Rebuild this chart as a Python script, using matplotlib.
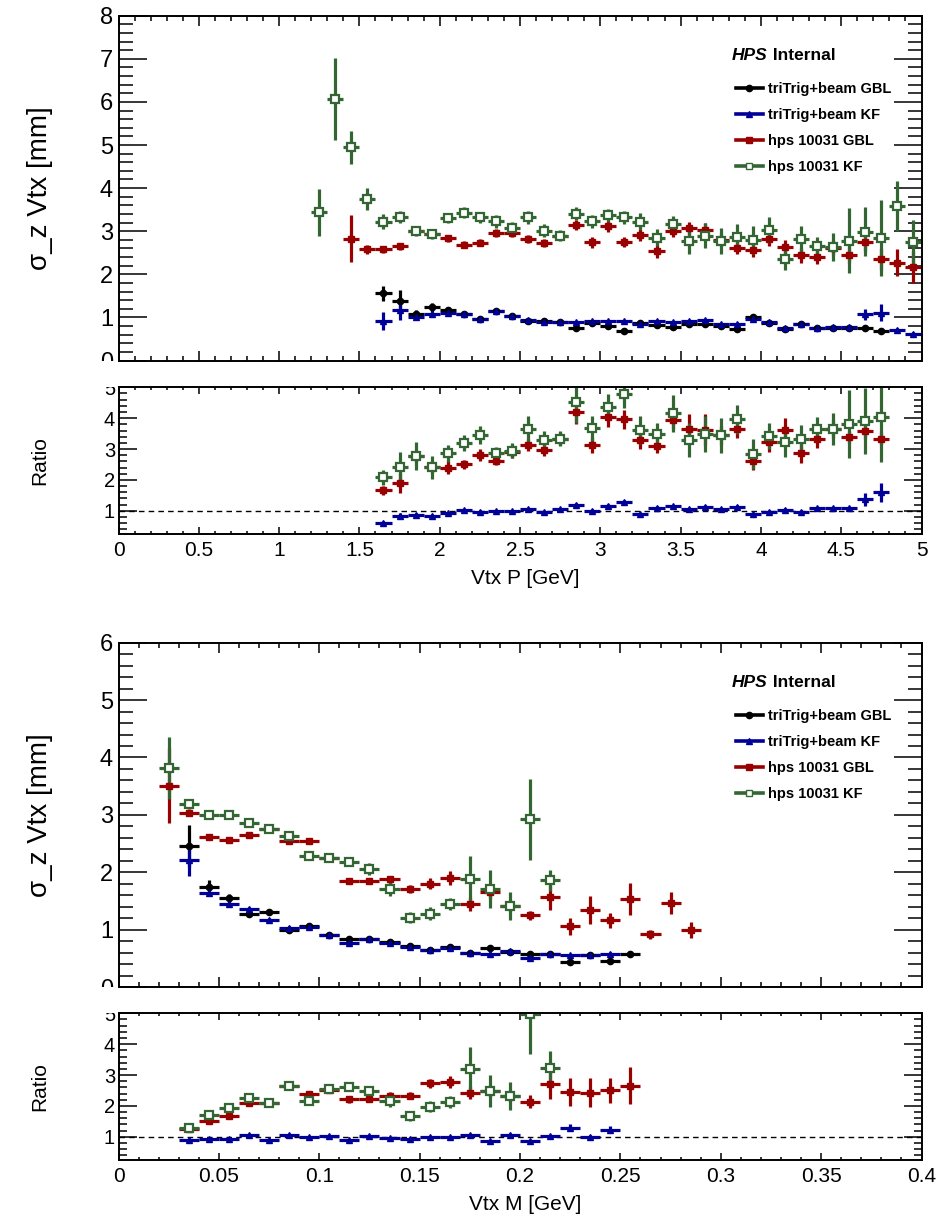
import numpy as np
import matplotlib
matplotlib.use('Agg')
import matplotlib.pyplot as plt
from matplotlib.lines import Line2D
from matplotlib.ticker import MultipleLocator, FuncFormatter
from matplotlib.transforms import Bbox, TransformedBbox

plt.rcParams['font.family'] = ['Liberation Sans', 'DejaVu Sans']

# ---- bin centres ----
p_bins = [1.25, 1.35, 1.45, 1.55, 1.65, 1.75, 1.85, 1.95, 2.05, 2.15,
          2.25, 2.35, 2.45, 2.55, 2.65, 2.75, 2.85, 2.95, 3.05, 3.15,
          3.25, 3.35, 3.45, 3.55, 3.65, 3.75, 3.85, 3.95, 4.05, 4.15,
          4.25, 4.35, 4.45, 4.55, 4.65, 4.75, 4.85, 4.95]
m_bins = [0.025, 0.035, 0.045, 0.055, 0.065, 0.075, 0.085, 0.095, 0.105,
          0.115, 0.125, 0.135, 0.145, 0.155, 0.165, 0.175, 0.185, 0.195,
          0.205, 0.215, 0.225, 0.235, 0.245, 0.255, 0.265, 0.275, 0.285]

# ---- sigma_z vs Vtx P ----
p_x_kf10031 = p_bins[0:38]
p_kf10031 = [3.44, 6.07, 4.95, 3.75, 3.22, 3.33, 3.01, 2.93, 3.31, 3.43,
             3.32, 3.23, 3.07, 3.32, 3.01, 2.90, 3.41, 3.23, 3.37, 3.32,
             3.22, 2.85, 3.16, 2.78, 2.90, 2.78, 2.86, 2.80, 3.03, 2.35,
             2.82, 2.66, 2.63, 2.78, 2.99, 2.84, 3.59, 2.74]
p_kf10031_err = [.55, .95, .38, .26, .17, .15, .12, .12, .12, .12,
                 .12, .15, .15, .15, .15, .12, .15, .15, .15, .15,
                 .2, .2, .2, .3, .3, .3, .3, .32, .3, .25,
                 .3, .2, .32, .75, .57, .88, .58, .53]

p_x_gbl10031 = p_bins[2:38]
p_gbl10031 = [2.83, 2.58, 2.58, 2.65, 3.01, 2.93, 2.84, 2.69, 2.73, 2.96,
              2.96, 2.82, 2.73, 2.90, 3.15, 2.74, 3.11, 2.75, 2.91, 2.53,
              3.01, 3.07, 3.03, 2.80, 2.62, 2.57, 2.82, 2.63, 2.44, 2.40,
              2.62, 2.45, 2.75, 2.35, 2.27, 2.16]
p_gbl10031_err = [.55, .1, .08, .08, .08, .08, .08, .08, .08, .1,
                  .1, .1, .1, .1, .12, .12, .12, .12, .14, .15,
                  .15, .15, .15, .15, .15, .16, .16, .16, .17, .17,
                  .18, .18, .2, .24, .31, .37]

p_x_gbltt = p_bins[4:36]
p_gbltt = [1.56, 1.38, 1.09, 1.23, 1.17, 1.09, 0.96, 1.14, 1.03, 0.92,
           0.91, 0.89, 0.76, 0.88, 0.79, 0.69, 0.88, 0.83, 0.77, 0.84,
           0.85, 0.80, 0.72, 1.01, 0.88, 0.73, 0.85, 0.75, 0.75, 0.75,
           0.75, 0.69]
p_gbltt_err = [.17, .26, .08, .1, .06, .05, .04, .04, .03, .03,
               .03, .03, .03, .03, .03, .03, .03, .03, .03, .03,
               .03, .03, .03, .05, .04, .03, .03, .03, .03, .03,
               .04, .05]

p_x_kftt = p_bins[4:38]
p_kftt = [0.92, 1.17, 1.01, 1.08, 1.11, 1.09, 0.96, 1.14, 1.03, 0.93,
          0.89, 0.90, 0.89, 0.91, 0.91, 0.91, 0.84, 0.91, 0.89, 0.91,
          0.94, 0.85, 0.84, 0.96, 0.89, 0.75, 0.85, 0.76, 0.77, 0.77,
          1.07, 1.11, 0.71, 0.61]
p_kftt_err = [.21, .24, .06, .05, .04, .04, .03, .03, .03, .03,
              .03, .03, .03, .03, .03, .03, .03, .03, .03, .03,
              .03, .03, .03, .03, .03, .03, .03, .03, .03, .03,
              .12, .19, .04, .04]

# ratios (w.r.t. triTrig+beam GBL)
pr_x = p_bins[4:36]
pr_kf10031 = [2.08, 2.42, 2.78, 2.41, 2.86, 3.20, 3.45, 2.86, 2.95, 3.65,
              3.29, 3.34, 4.53, 3.67, 4.35, 4.77, 3.62, 3.49, 4.16, 3.29,
              3.49, 3.44, 3.96, 2.83, 3.43, 3.22, 3.31, 3.65, 3.65, 3.82,
              3.91, 4.05]
pr_kf10031_err = [.25, .5, .45, .38, .28, .25, .3, .2, .25, .43,
                  .3, .25, .67, .4, .42, .45, .45, .36, .6, .54,
                  .58, .56, .48, .49, .43, .48, .48, .4, .51, 1.1,
                  1.08, 1.46]
pr_gbl10031 = [1.67, 1.91, 2.78, 2.41, 2.40, 2.51, 2.81, 2.62, 2.92, 3.13,
               2.97, 3.34, 4.19, 3.13, 4.05, 3.96, 3.29, 3.11, 3.94, 3.65,
               3.62, 3.44, 3.65, 2.61, 3.22, 3.62, 2.86, 3.34, 3.65, 3.40,
               3.58, 3.34]
pr_gbl10031_err = [.15, .32, .2, .2, .2, .15, .2, .15, .2, .2,
                   .2, .2, .37, .27, .32, .3, .3, .25, .3, .47,
                   .5, .3, .3, .3, .3, .4, .3, .3, .3, .2,
                   .25, .2]
pr_kftt = [0.59, 0.83, 0.86, 0.84, 0.92, 1.02, 0.97, 0.99, 0.99, 1.05,
           0.96, 1.05, 1.18, 1.00, 1.16, 1.29, 0.89, 1.10, 1.15, 1.05,
           1.13, 1.05, 1.13, 0.89, 0.97, 1.04, 0.97, 1.08, 1.08, 1.08,
           1.37, 1.60]
pr_kftt_err = [.08, .1, .06, .06, .05, .05, .05, .05, .05, .05,
               .05, .05, .06, .05, .06, .06, .05, .05, .05, .05,
               .05, .05, .05, .05, .05, .05, .05, .05, .05, .05,
               .2, .31]

# ---- sigma_z vs Vtx M ----
m_x_kf10031 = m_bins[0:20]
m_kf10031 = [3.82, 3.19, 2.99, 2.99, 2.86, 2.75, 2.64, 2.28, 2.25, 2.18,
             2.06, 1.71, 1.21, 1.28, 1.45, 1.89, 1.71, 1.41, 2.92, 1.86]
m_kf10031_err = [.54, .07, .04, .04, .05, .05, .07, .07, .08, .08,
                 .1, .12, .1, .12, .1, .4, .33, .25, .7, .18]

m_x_gbl10031 = m_bins[0:27]
m_gbl10031 = [3.51, 3.04, 2.61, 2.56, 2.65, 2.75, 2.55, 2.54, 2.25, 1.85,
              1.85, 1.88, 1.71, 1.80, 1.90, 1.44, 1.66, 1.41, 1.25, 1.56,
              1.06, 1.34, 1.16, 1.53, 0.92, 1.47, 0.99]
m_gbl10031_err = [.65, .06, .04, .04, .04, .05, .04, .05, .06, .05,
                  .05, .06, .07, .1, .13, .12, .12, .1, .08, .22,
                  .15, .24, .13, .28, .08, .19, .14]

m_x_gbltt = m_bins[1:24]
m_gbltt = [2.46, 1.75, 1.55, 1.28, 1.31, 0.99, 1.06, 0.91, 0.84, 0.84,
           0.79, 0.72, 0.65, 0.70, 0.59, 0.68, 0.61, 0.58, 0.57, 0.43,
           0.55, 0.45, 0.58]
m_gbltt_err = [.37, .12, .07, .05, .05, .03, .04, .03, .03, .03,
               .03, .03, .03, .03, .03, .03, .03, .03, .03, .03,
               .03, .03, .03]

m_x_kftt = m_bins[1:23]
m_kftt = [2.22, 1.63, 1.45, 1.36, 1.16, 1.03, 1.05, 0.91, 0.77, 0.83,
          0.77, 0.70, 0.65, 0.68, 0.60, 0.58, 0.63, 0.50, 0.58, 0.55,
          0.55, 0.58]
m_kftt_err = [.28, .05, .04, .04, .04, .03, .03, .03, .03, .03,
              .03, .03, .03, .03, .03, .03, .03, .03, .03, .03,
              .03, .03]

mr_x_kf10031 = m_bins[1:20]
mr_kf10031 = [1.28, 1.71, 1.93, 2.25, 2.11, 2.65, 2.16, 2.54, 2.60, 2.49,
              2.16, 1.66, 1.97, 2.13, 3.21, 2.48, 2.33, 4.98, 3.24]
mr_kf10031_err = [.1, .1, .08, .1, .08, .12, .1, .12, .12, .15,
                  .18, .15, .18, .2, .7, .53, .46, 1.3, .53]
mr_x_gbl10031 = m_bins[1:24]
mr_gbl10031 = [1.25, 1.52, 1.68, 2.11, 2.11, 2.65, 2.38, 2.51, 2.21, 2.24,
               2.33, 2.33, 2.73, 2.77, 2.43, 2.48, 2.33, 2.14, 2.71, 2.45,
               2.43, 2.51, 2.65]
mr_gbl10031_err = [.1, .1, .08, .08, .08, .1, .1, .1, .1, .1,
                   .12, .12, .15, .2, .2, .2, .2, .2, .5, .45,
                   .48, .4, .6]
mr_x_kftt = m_bins[1:23]
mr_kftt = [0.90, 0.92, 0.92, 1.06, 0.90, 1.06, 0.98, 1.02, 0.90, 1.02,
           0.96, 0.94, 0.98, 1.00, 1.06, 0.85, 1.06, 0.85, 1.02, 1.30,
           1.00, 1.23]
mr_kftt_err = [.06, .04, .04, .04, .04, .04, .04, .04, .04, .04,
               .04, .04, .04, .04, .04, .05, .05, .05, .05, .1,
               .05, .12]

labels = ['triTrig+beam GBL', 'triTrig+beam KF', 'hps 10031 GBL', 'hps 10031 KF']

BLACK = '#000000'
BLUE = '#000099'
RED = '#990000'
GREEN = '#336633'

STYLE = {
    'gbltt': dict(color=BLACK, fmt='o', ms=4.5, mfc=BLACK),
    'kftt': dict(color=BLUE, fmt='^', ms=5, mfc=BLUE),
    'gbl10031': dict(color=RED, fmt='s', ms=4.8, mfc=RED),
    'kf10031': dict(color=GREEN, fmt='s', ms=5.8, mfc='white', mew=1.6),
}

W, H = 942, 1216
fig = plt.figure(figsize=(W / 100, H / 100), dpi=100)


def ax_at(top, bottom, left=118.5, right=921.5):
    return fig.add_axes([left / W, 1 - bottom / H, (right - left) / W, (bottom - top) / H])


def draw(ax, key, x, y, err, hw):
    st = STYLE[key]
    ax.errorbar(x, y, xerr=hw, yerr=err, fmt=st['fmt'], color=st['color'],
                ms=st['ms'], mfc=st['mfc'], mec=st['color'], mew=st.get('mew', 1),
                elinewidth=2.3, capsize=0, linestyle='none')


def style_axes(ax, main, xmaj, xmin, ymaj, ymin):
    ax.xaxis.set_major_locator(MultipleLocator(xmaj))
    ax.xaxis.set_minor_locator(MultipleLocator(xmin))
    ax.yaxis.set_major_locator(MultipleLocator(ymaj))
    ax.yaxis.set_minor_locator(MultipleLocator(ymin))
    ax.xaxis.set_major_formatter(FuncFormatter(lambda v, p: '%g' % round(v, 4)))
    ax.yaxis.set_major_formatter(FuncFormatter(lambda v, p: '%g' % round(v, 4)))
    ax.tick_params(which='both', direction='in', top=True, right=True, width=1.1)
    for s in ax.spines.values():
        s.set_linewidth(1.4)
    if main:
        ax.tick_params(axis='y', which='major', length=20, labelsize=17, pad=4)
        ax.tick_params(axis='y', which='minor', length=10)
        ax.tick_params(axis='x', which='major', length=7)
        ax.tick_params(axis='x', which='minor', length=3.6)
        ax.tick_params(axis='x', labelbottom=False)
    else:
        ax.tick_params(axis='y', which='major', length=13, labelsize=14.5, pad=2.5)
        ax.tick_params(axis='y', which='minor', length=6)
        ax.tick_params(axis='x', which='major', length=5, labelsize=15, pad=5)
        ax.tick_params(axis='x', which='minor', length=2.5)


def set_ylabel(ax, text, size):
    ax.set_ylabel(text, fontsize=size, va='center')
    ax.yaxis.set_label_coords(-0.098, 0.5)


def hps_label(ax):
    t1 = ax.text(0.764, 0.872, 'HPS', transform=ax.transAxes, fontsize=12.5,
                 fontweight='bold', fontstyle='italic', va='baseline', ha='left')
    ax.annotate(' Internal', xy=(1, 0), xycoords=t1, fontsize=12.5,
                fontweight='bold', va='bottom', ha='left')
    handles = [Line2D([], [], color=STYLE[k]['color'], lw=2.6, marker=STYLE[k]['fmt'],
                      ms=4.5, mfc=STYLE[k]['mfc'], mec=STYLE[k]['color'])
               for k in ['gbltt', 'kftt', 'gbl10031', 'kf10031']]
    ax.legend(handles, labels, loc='upper left', bbox_to_anchor=(0.769, 0.807),
              frameon=False, borderpad=0, borderaxespad=0, handlelength=1.85,
              handletextpad=0.35, labelspacing=0.82,
              prop={'weight': 'bold', 'size': 10.5})


# ======== top figure: vs P ========
axp = ax_at(15.7, 360.5)
draw(axp, 'gbltt', p_x_gbltt, p_gbltt, p_gbltt_err, 0.05)
draw(axp, 'kftt', p_x_kftt, p_kftt, p_kftt_err, 0.05)
draw(axp, 'gbl10031', p_x_gbl10031, p_gbl10031, p_gbl10031_err, 0.05)
draw(axp, 'kf10031', p_x_kf10031, p_kf10031, p_kf10031_err, 0.05)
axp.set_xlim(0, 5)
axp.set_ylim(0, 8)
style_axes(axp, True, 0.5, 0.1, 1, 0.2)
set_ylabel(axp, 'σ_z Vtx [mm]', 20)
hps_label(axp)

axpr = ax_at(387.3, 534)
axpr.axhline(1, color='black', lw=1, ls=(0, (4, 3)))
draw(axpr, 'kftt', pr_x, pr_kftt, pr_kftt_err, 0.05)
draw(axpr, 'gbl10031', pr_x, pr_gbl10031, pr_gbl10031_err, 0.05)
draw(axpr, 'kf10031', pr_x, pr_kf10031, pr_kf10031_err, 0.05)
axpr.set_xlim(0, 5)
axpr.set_ylim(0.25, 5)
style_axes(axpr, False, 0.5, 0.1, 1, 0.2)
set_ylabel(axpr, 'Ratio', 15)
axpr.set_xlabel('Vtx P [GeV]', fontsize=15, va='center')
axpr.xaxis.set_label_coords(0.507, -0.30)

# ======== bottom figure: vs M ========
axm = ax_at(642.7, 987)
draw(axm, 'gbltt', m_x_gbltt, m_gbltt, m_gbltt_err, 0.005)
draw(axm, 'kftt', m_x_kftt, m_kftt, m_kftt_err, 0.005)
draw(axm, 'gbl10031', m_x_gbl10031, m_gbl10031, m_gbl10031_err, 0.005)
draw(axm, 'kf10031', m_x_kf10031, m_kf10031, m_kf10031_err, 0.005)
axm.set_xlim(0, 0.4)
axm.set_ylim(0, 6)
style_axes(axm, True, 0.05, 0.01, 1, 0.2)
set_ylabel(axm, 'σ_z Vtx [mm]', 20)
hps_label(axm)

axmr = ax_at(1013.3, 1160)
axmr.axhline(1, color='black', lw=1, ls=(0, (4, 3)))
draw(axmr, 'kftt', mr_x_kftt, mr_kftt, mr_kftt_err, 0.005)
draw(axmr, 'gbl10031', mr_x_gbl10031, mr_gbl10031, mr_gbl10031_err, 0.005)
draw(axmr, 'kf10031', mr_x_kf10031, mr_kf10031, mr_kf10031_err, 0.005)
axmr.set_xlim(0, 0.4)
axmr.set_ylim(0.25, 5)
style_axes(axmr, False, 0.05, 0.01, 1, 0.2)
set_ylabel(axmr, 'Ratio', 15)
axmr.set_xlabel('Vtx M [GeV]', fontsize=15, va='center')
axmr.xaxis.set_label_coords(0.507, -0.305)

# clip tick labels at the pad edges like ROOT does
fig.canvas.draw()


def clip_ticklabels(ax, y0, y1):
    box = TransformedBbox(Bbox.from_extents(0, y0, 1, y1), fig.transFigure)
    for t in ax.yaxis.get_major_ticks():
        t.label1.set_clip_box(box)
        t.label1.set_clip_on(True)


clip_ticklabels(axp, 1 - 360.5 / H, 1)
clip_ticklabels(axpr, 0, 1 - 387.3 / H)
clip_ticklabels(axm, 1 - 987 / H, 1)
clip_ticklabels(axmr, 0, 1 - 1013.3 / H)

fig.savefig('out.png', dpi=100)
